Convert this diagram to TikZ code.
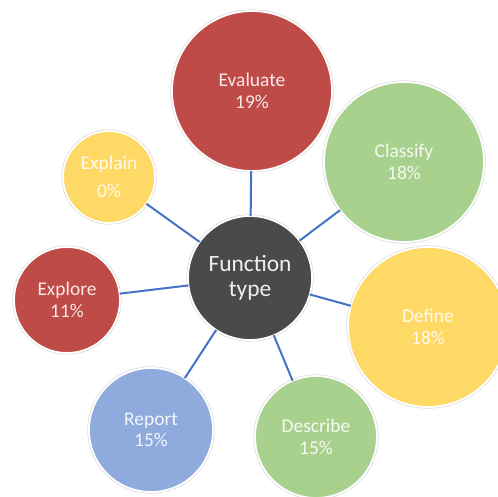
\documentclass[tikz,border=0pt]{standalone}
\usepackage{fontspec}
\setmainfont{Carlito}
\definecolor{cRed}{HTML}{BE4B48}
\definecolor{cGreen}{HTML}{A9D18E}
\definecolor{cYellow}{HTML}{FFD966}
\definecolor{cBlue}{HTML}{8FAADC}
\definecolor{cDark}{HTML}{4A4A4A}
\definecolor{cLink}{HTML}{4472C4}
\tikzset{
  bubble/.style={circle, inner sep=0pt, outer sep=0pt, align=center,
    text=white, text opacity=0.88,
    font=\fontsize{19.5}{21.5}\selectfont,
    preaction={draw=black!14, line width=3.2bp},
    draw=white, line width=1.8bp},
  hub/.style={bubble, fill=cDark, minimum size=124bp,
    font=\fontsize{23.5}{25}\selectfont, text opacity=0.92},
  link/.style={draw=cLink, line width=2bp}
}
\begin{document}
\begin{tikzpicture}[x=1bp, y=-1bp]
  \useasboundingbox (0,0) rectangle (498,497);
  % hub
  \node[hub] (c) at (250,278) {Function\\type};
  % outer bubbles
  \node[bubble, fill=cRed,    minimum size=160bp] (ev) at (252,91)  {Evaluate\\19\%};
  \node[bubble, fill=cGreen,  minimum size=160bp] (cl) at (404,162) {Classify\\18\%};
  \node[bubble, fill=cYellow, minimum size=160bp] (de) at (428,327) {Define\\18\%};
  \node[bubble, fill=cGreen,  minimum size=122bp] (ds) at (316,437) {Describe\\15\%};
  \node[bubble, fill=cBlue,   minimum size=124bp] (re) at (151,430) {Report\\15\%};
  \node[bubble, fill=cRed,    minimum size=106bp] (ex) at (67,300)  {Explore\\11\%};
  \node[bubble, fill=cYellow, minimum size=92bp]  (ep) at (109,177) {Explain\\[7bp]0\%};
  % spokes
  \foreach \t in {ev,cl,de,ds,re,ex,ep}
    \draw[link] (c) -- (\t);
\end{tikzpicture}
\end{document}
